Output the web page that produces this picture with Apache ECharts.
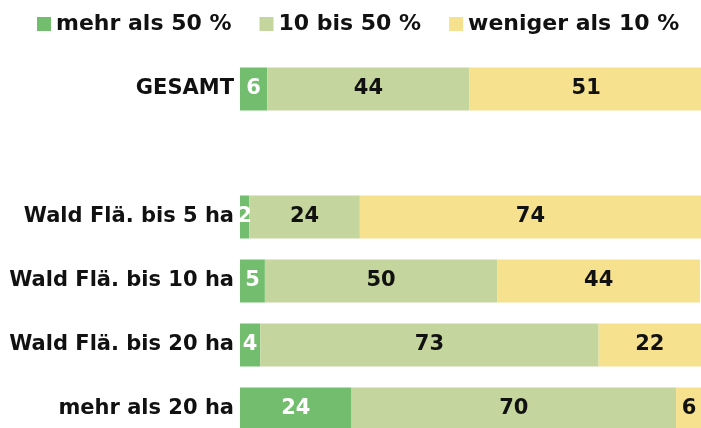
<!DOCTYPE html>
<html>
<head>
<meta charset="utf-8">
<script src="https://cdn.jsdelivr.net/npm/echarts@6/dist/echarts.min.js"></script>
<style>
html,body{margin:0;padding:0;background:#fff;}
#chart{width:701px;height:428px;}
</style>
</head>
<body>
<div id="chart"></div>
<script>
var categories = ['GESAMT', '', 'Wald Flä. bis 5 ha', 'Wald Flä. bis 10 ha', 'Wald Flä. bis 20 ha', 'mehr als 20 ha'];
var seriesNames = ['mehr als 50 %', '10 bis 50 %', 'weniger als 10 %'];
var mehrAls50 = [5.9, null, 2.0, 5.4, 4.4, 24.2];
var zehnBis50 = [43.9, null, 24.0, 50.4, 73.4, 70.4];
var wenigerAls10 = [50.6, null, 74.0, 44.0, 22.2, 5.6];

var FONT = '"DejaVu Sans", Verdana, sans-serif';
var colors = ['#73bd6f', '#c4d69d', '#f6e18f'];
var labelColors = ['#ffffff', '#111111', '#111111'];
var dataSets = [mehrAls50, zehnBis50, wenigerAls10];

var chart = echarts.init(document.getElementById('chart'));
chart.setOption({
  animation: false,
  legend: {
    top: 8,
    left: 32,
    itemWidth: 14,
    itemHeight: 14,
    itemGap: 28,
    icon: 'rect',
    textStyle: {fontFamily: FONT, fontSize: 22, fontWeight: 'bold', color: '#111', padding: [0,0,0,0]},
    data: seriesNames
  },
  grid: {left: 240, right: 0, top: 57, height: 384, outerBoundsMode: 'none'},
  xAxis: {type: 'value', min: 0, max: 100, show: false},
  yAxis: {
    type: 'category',
    data: categories,
    inverse: true,
    axisLine: {show: false},
    axisTick: {show: false},
    axisLabel: {fontFamily: FONT, fontSize: 21, fontWeight: 'bold', color: '#111', margin: 6}
  },
  series: dataSets.map(function(d, i){
    return {
      name: seriesNames[i],
      type: 'bar',
      stack: 'total',
      barWidth: 43,
      clip: false,
      itemStyle: {color: colors[i]},
      label: {
        show: true,
        position: 'inside',
        fontFamily: FONT,
        fontSize: 21,
        fontWeight: 'bold',
        color: labelColors[i],
        formatter: function(p){ return p.value == null ? '' : Math.round(p.value); }
      },
      data: d
    };
  })
});
</script>
</body>
</html>
